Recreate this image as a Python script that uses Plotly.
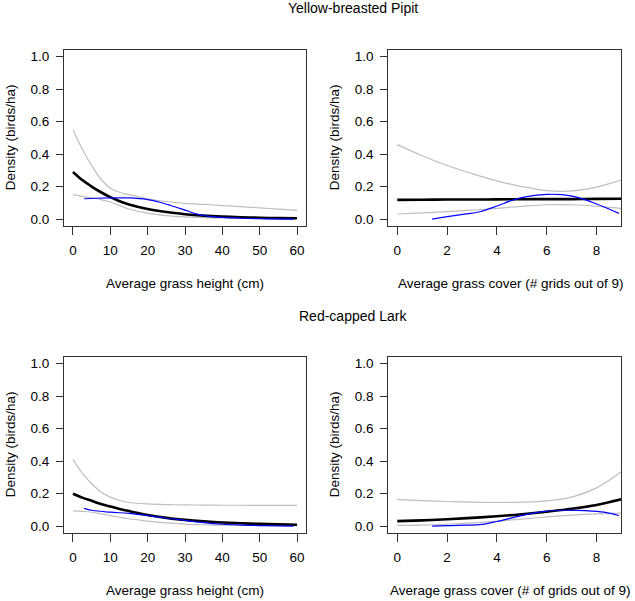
import plotly.graph_objects as go

W, H = 635, 601

# ---------------- data ----------------
# Yellow-breasted Pipit vs grass height
ybp_h_x = [0, 2.5, 5, 7.5, 10, 12.5, 15, 20, 25, 30, 35, 40, 45, 50, 55, 60]
ybp_h_fit = [0.29, 0.24, 0.20, 0.165, 0.135, 0.11, 0.09, 0.062, 0.043, 0.030, 0.021, 0.015, 0.011, 0.008, 0.006, 0.005]
ybp_h_up = [0.55, 0.43, 0.33, 0.245, 0.19, 0.165, 0.15, 0.125, 0.108, 0.097, 0.09, 0.083, 0.076, 0.069, 0.061, 0.053]
ybp_h_lo = [0.15, 0.14, 0.13, 0.12, 0.105, 0.083, 0.062, 0.036, 0.021, 0.013, 0.009, 0.007, 0.006, 0.005, 0.004, 0.004]
ybp_h_obs_x = [3, 6, 10, 15, 20, 23, 26, 30, 33, 36, 40, 45, 50, 55, 59]
ybp_h_obs = [0.125, 0.128, 0.13, 0.13, 0.12, 0.105, 0.085, 0.055, 0.032, 0.018, 0.01, 0.005, 0.002, 0.001, 0.0]

# Yellow-breasted Pipit vs grass cover
ybp_c_x = [0, 1, 2, 3, 4, 5, 6, 7, 8, 9]
ybp_c_fit = [0.118, 0.119, 0.12, 0.12, 0.121, 0.122, 0.123, 0.123, 0.124, 0.125]
ybp_c_up = [0.458, 0.39, 0.33, 0.28, 0.235, 0.2, 0.175, 0.173, 0.197, 0.24]
ybp_c_lo = [0.031, 0.038, 0.046, 0.055, 0.066, 0.078, 0.088, 0.088, 0.08, 0.065]
ybp_c_obs_x = [1.4, 2.0, 2.7, 3.3, 4.0, 4.6, 5.2, 6.0, 6.6, 7.2, 7.8, 8.4, 8.9]
ybp_c_obs = [0.0, 0.015, 0.03, 0.045, 0.08, 0.115, 0.138, 0.152, 0.15, 0.135, 0.105, 0.068, 0.035]

# Red-capped Lark vs grass height
rcl_h_x = [0, 2.5, 5, 7.5, 10, 12.5, 15, 20, 25, 30, 35, 40, 45, 50, 55, 60]
rcl_h_fit = [0.199, 0.175, 0.155, 0.135, 0.12, 0.105, 0.092, 0.068, 0.05, 0.038, 0.029, 0.022, 0.017, 0.013, 0.010, 0.008]
rcl_h_up = [0.41, 0.325, 0.26, 0.21, 0.178, 0.157, 0.145, 0.136, 0.132, 0.13, 0.129, 0.128, 0.128, 0.127, 0.127, 0.127]
rcl_h_lo = [0.093, 0.09, 0.085, 0.075, 0.064, 0.054, 0.045, 0.03, 0.019, 0.012, 0.008, 0.005, 0.004, 0.003, 0.002, 0.002]
rcl_h_obs_x = [3, 5, 10, 15, 20, 25, 30, 35, 40, 45, 50, 55, 59]
rcl_h_obs = [0.109, 0.097, 0.085, 0.078, 0.064, 0.048, 0.035, 0.021, 0.011, 0.006, 0.003, 0.001, 0.0]

# Red-capped Lark vs grass cover
rcl_c_x = [0, 1, 2, 3, 4, 5, 6, 7, 8, 9]
rcl_c_fit = [0.03, 0.035, 0.042, 0.05, 0.06, 0.073, 0.088, 0.106, 0.13, 0.165]
rcl_c_up = [0.162, 0.156, 0.151, 0.147, 0.145, 0.147, 0.155, 0.178, 0.235, 0.335]
rcl_c_lo = [0.004, 0.006, 0.011, 0.019, 0.03, 0.043, 0.056, 0.067, 0.075, 0.08]
rcl_c_obs_x = [1.4, 2.0, 2.7, 3.4, 4.0, 4.6, 5.2, 6.0, 6.6, 7.2, 7.8, 8.4, 8.9]
rcl_c_obs = [0.0, 0.002, 0.005, 0.01, 0.028, 0.05, 0.072, 0.092, 0.097, 0.096, 0.092, 0.083, 0.065]

species = ["Yellow-breasted Pipit", "Red-capped Lark"]
xlabels = ["Average grass height (cm)", "Average grass cover (# grids out of 9)",
           "Average grass height (cm)", "Average grass cover (# of grids out of 9)"]
ylabel = "Density (birds/ha)"
ytick_vals = [0, 0.2, 0.4, 0.6, 0.8, 1.0]
xtick_h = [0, 10, 20, 30, 40, 50, 60]
xtick_c = [0, 2, 4, 6, 8]

panels = [
    (ybp_h_x, ybp_h_fit, ybp_h_up, ybp_h_lo, ybp_h_obs_x, ybp_h_obs),
    (ybp_c_x, ybp_c_fit, ybp_c_up, ybp_c_lo, ybp_c_obs_x, ybp_c_obs),
    (rcl_h_x, rcl_h_fit, rcl_h_up, rcl_h_lo, rcl_h_obs_x, rcl_h_obs),
    (rcl_c_x, rcl_c_fit, rcl_c_up, rcl_c_lo, rcl_c_obs_x, rcl_c_obs),
]

# ---------------- layout geometry (target pixels) ----------------
box_x = [(64, 306), (388.3, 621), (64, 306), (388.3, 621)]
box_y = [(49.3, 225.3), (49.3, 225.3), (357.3, 533.3), (357.3, 533.3)]
xranges = [[-2.4, 62.4], [-0.36, 8.98], [-2.4, 62.4], [-0.36, 8.98]]

def px(x):
    return x / W

def py(y):
    return 1 - y / H

FONT = "Liberation Sans, Arial, Helvetica, sans-serif"
fig = go.Figure()

for i, (x, fit, up, lo, ox, oy) in enumerate(panels):
    n = "" if i == 0 else str(i + 1)
    xa, ya = "x" + n, "y" + n
    for yy in (up, lo):
        fig.add_trace(go.Scatter(x=x, y=yy, mode="lines", xaxis=xa, yaxis=ya,
                                 line=dict(color="#bebebe", width=1.2, shape="spline"),
                                 showlegend=False, hoverinfo="skip"))
    fig.add_trace(go.Scatter(x=x, y=fit, mode="lines", xaxis=xa, yaxis=ya,
                             line=dict(color="black", width=2.6, shape="spline"),
                             showlegend=False))
    fig.add_trace(go.Scatter(x=ox, y=oy, mode="lines", xaxis=xa, yaxis=ya,
                             line=dict(color="#0000ff", width=1.2, shape="spline"),
                             showlegend=False))
    (x0, x1), (y0, y1) = box_x[i], box_y[i]
    fig.layout["xaxis" + n] = dict(
        domain=[px(x0), px(x1)], anchor=ya, range=xranges[i],
        tickmode="array", tickvals=xtick_h if i % 2 == 0 else xtick_c,
        ticks="outside", ticklen=8, tickwidth=1, tickcolor="#333",
        showline=True, linecolor="#333", linewidth=1, mirror=True,
        showgrid=False, zeroline=False, ticklabelstandoff=4,
        tickfont=dict(family=FONT, size=13.5, color="black"))
    fig.layout["yaxis" + n] = dict(
        domain=[py(y1), py(y0)], anchor=xa, range=[-0.04, 1.04],
        tickmode="array", tickvals=ytick_vals, tickformat=".1f",
        ticks="outside", ticklen=7, tickwidth=1, tickcolor="#333",
        showline=True, linecolor="#333", linewidth=1, mirror=True,
        showgrid=False, zeroline=False, ticklabelstandoff=4,
        tickfont=dict(family=FONT, size=13.5, color="black"))

annotations = []
# species titles
for sp, yc in zip(species, [7.5, 316]):
    annotations.append(dict(text=sp, x=px(353), y=py(yc), xref="paper", yref="paper",
                            xanchor="center", yanchor="middle", showarrow=False,
                            font=dict(family=FONT, size=14, color="black")))
# x axis titles
xt_cx = [185, 511, 185, 511]
xt_cy = [283.5, 283.5, 591.5, 591.5]
for i in range(4):
    annotations.append(dict(text=xlabels[i], x=px(xt_cx[i]), y=py(xt_cy[i]),
                            xref="paper", yref="paper", xanchor="center", yanchor="middle",
                            showarrow=False, font=dict(family=FONT, size=13.5, color="black")))
# y axis titles
yt_cx = [10.5, 334.5, 10.5, 334.5]
for i in range(4):
    yc = (box_y[i][0] + box_y[i][1]) / 2
    annotations.append(dict(text=ylabel, x=px(yt_cx[i]), y=py(yc), textangle=-90,
                            xref="paper", yref="paper", xanchor="center", yanchor="middle",
                            showarrow=False, font=dict(family=FONT, size=13.5, color="black")))

fig.update_layout(width=W, height=H, margin=dict(l=0, r=0, t=0, b=0),
                  paper_bgcolor="white", plot_bgcolor="white",
                  annotations=annotations, showlegend=False)

# remove the default 8px page margin so the figure sits at the window origin
fig.write_html("out.html", config={"displayModeBar": False},
               post_script="document.body.style.margin='0px';")
